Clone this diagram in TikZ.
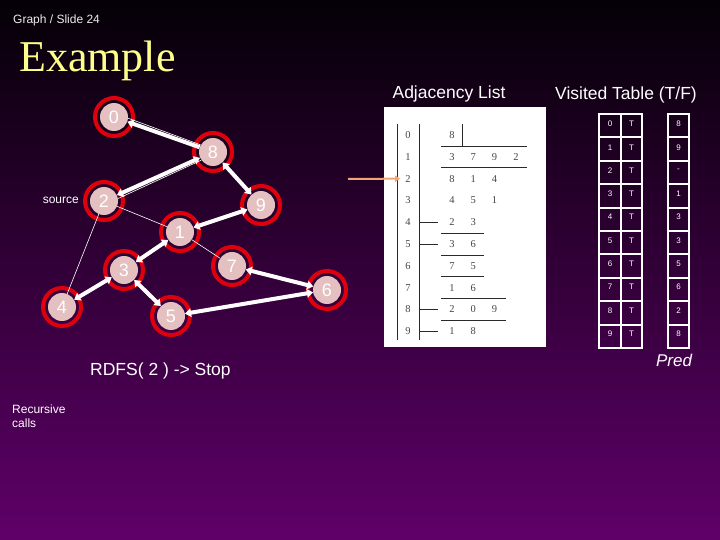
\documentclass[tikz,border=0pt]{standalone}
\usepackage{fontspec}
\setmainfont{Liberation Sans}
\newfontfamily\timesfont{Liberation Serif}
\usepackage{tikz}
\usetikzlibrary{arrows.meta,calc,positioning}
\usepackage{xcolor}
\definecolor{bgtop}{RGB}{4,0,6}
\definecolor{bgbot}{RGB}{95,0,105}
\definecolor{diskpink}{RGB}{228,192,192}
\definecolor{ringred}{RGB}{222,0,12}
\definecolor{ptrorange}{RGB}{240,165,115}
\definecolor{titleyellow}{RGB}{255,255,140}
\definecolor{adjgray}{RGB}{70,70,70}

\begin{document}
\begin{tikzpicture}[x=1pt,y=-1pt,
  >={Triangle[length=6pt,width=8.5pt]},
  vtx/.style={circle,fill=diskpink,minimum size=28pt,inner sep=0pt,text=white,font=\fontsize{18}{18}\selectfont},
  ring/.style={draw=ringred,line width=4pt},
  bigedge/.style={white,line width=4pt},
  thinedge/.style={white,line width=0.6pt},
  lbl/.style={text=white,inner sep=0pt},
  adjtxt/.style={text=adjgray,inner sep=1pt,font=\timesfont\fontsize{10.5}{10.5}\selectfont},
  adjline/.style={adjgray!60!black,line width=0.8pt},
  vcell/.style={white,line width=2pt},
  vtxt/.style={text=white,inner sep=0pt,font=\fontsize{8}{8}\selectfont}]
\useasboundingbox (0,0) rectangle (720,540);
% Sfondo
\shade[top color=bgtop,bottom color=bgbot] (0,0) rectangle (720,540);
% Titolo
\node[lbl,anchor=base west,text=white!85!gray,font=\fontsize{12}{12}\selectfont] (slide) at (13,24) {Graph / Slide 24};
\node[lbl,anchor=base west,text=titleyellow,font=\timesfont\fontsize{44}{44}\selectfont] (title) at (19,72) {Example};
% Vertici del grafo
\foreach \n/\x/\y in {0/114/117, 8/213/152, 2/104/201, 9/261/205, 1/180/232,
                      7/232/266, 3/124/270, 6/327/290, 4/62/307, 5/171/316}{
  \node[vtx] (v\n) at (\x,\y) {\n};
}
\foreach \n in {0,...,9}{
  \draw[ring] (v\n.center) circle (19pt);
}
\node[lbl,anchor=east,font=\fontsize{12}{12}\selectfont] (src) at (79,200) {source};
% Archi sottili
\draw[thinedge] (v0.-5) -- (v8.150);
\draw[thinedge] (v2.10) -- (v8.215);
\draw[thinedge] (v2) -- (v1);
\draw[thinedge] (v1) -- (v7);
\draw[thinedge] (v2) -- (v4);
% Archi spessi (chiamate ricorsive)
\draw[bigedge,->] (v8) -- (v0);
\foreach \a/\b in {2/8, 8/9, 9/1, 1/3, 3/4, 3/5, 7/6, 6/5}{
  \draw[bigedge,<->] (v\a) -- (v\b);
}
\node[lbl,anchor=base west,font=\fontsize{17.5}{17.5}\selectfont] (call) at (90,375) {RDFS( 2 ) -> Stop};
\node[lbl,anchor=north west,align=left,font=\fontsize{12}{14}\selectfont] (rec) at (12,405) {Recursive\\calls};
% Lista di adiacenza
\node[lbl,anchor=base,font=\fontsize{17.5}{17.5}\selectfont] (adjhead) at (449,99) {Adjacency List};
\fill[white] (384,107) rectangle (546,347);
\draw[adjline] (397,124) -- (397,340);
\draw[adjline] (419,124) -- (419,340);
\draw[adjline] (462,124) -- (462,146);
\foreach \r/\xe in {0/527, 1/527, 4/484, 5/484, 6/484, 7/506, 8/506}{
  \draw[adjline] (441,146+21.8*\r) -- (\xe,146+21.8*\r);
}
\foreach \r in {4,5,8,9}{
  \draw[adjline] (419,135+21.8*\r) -- (438,135+21.8*\r);
}
\foreach \r/\lst in {0/{8}, 1/{3,7,9,2}, 2/{8,1,4}, 3/{4,5,1}, 4/{2,3},
                     5/{3,6}, 6/{7,5}, 7/{1,6}, 8/{2,0,9}, 9/{1,8}}{
  \node[adjtxt] (idx\r) at (408,135+21.8*\r) {\r};
  \foreach \e [count=\c] in \lst{
    \node[adjtxt] (adj\r-\c) at (452+21.3*\c-21.3,135+21.8*\r) {\e};
  }
}
\coordinate (ptr) at (348,179);
\draw[ptrorange,line width=2pt,-{Triangle[length=5pt,width=6pt]},shorten >=4pt] (ptr) -- (idx2.west);
% Tabella dei visitati
\node[lbl,anchor=base,font=\fontsize{17.5}{17.5}\selectfont] (vishead) at (626,100) {Visited Table (T/F)};
\foreach \r/\p in {0/8, 1/9, 2/-, 3/1, 4/3, 5/3, 6/5, 7/6, 8/2, 9/8}{
  \draw[vcell] (599,114+23.4*\r) rectangle (621,137.4+23.4*\r);
  \draw[vcell] (621,114+23.4*\r) rectangle (642,137.4+23.4*\r);
  \draw[vcell] (668,114+23.4*\r) rectangle (689,137.4+23.4*\r);
  \node[vtxt] (vt\r) at (610,124+23.3*\r) {\r};
  \node[vtxt] (vf\r) at (631.5,124+23.3*\r) {T};
  \node[vtxt] (vp\r) at (678.5,124+23.3*\r) {\p};
}
\node[lbl,anchor=base,font=\itshape\fontsize{17}{17}\selectfont] (pred) at (674,366) {Pred};
\end{tikzpicture}
\end{document}
